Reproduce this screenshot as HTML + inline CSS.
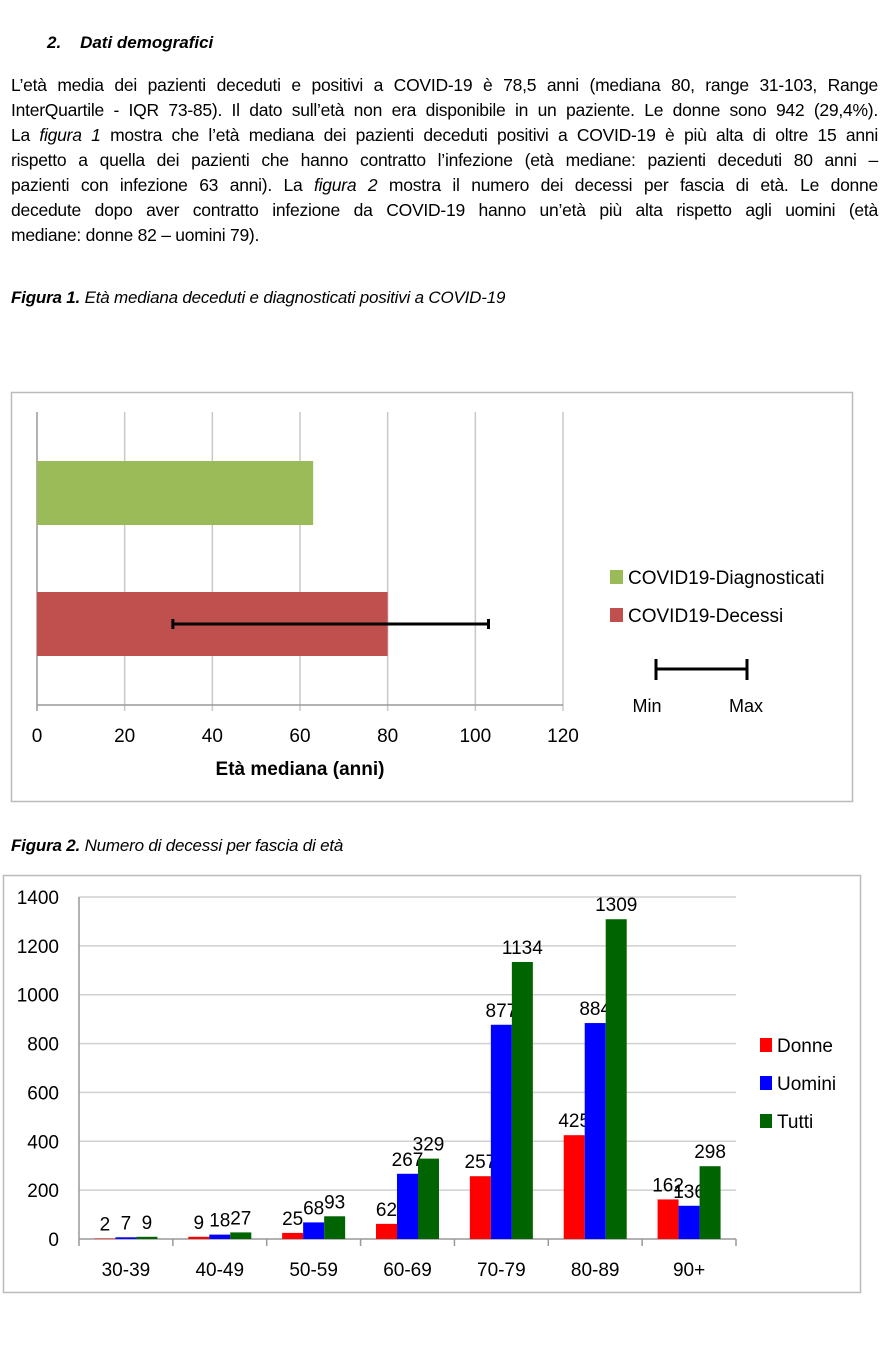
<!DOCTYPE html>
<html><head><meta charset="utf-8">
<style>
body{margin:0;width:880px;height:1369px;background:#fff;position:relative;font-family:"Liberation Sans",sans-serif;color:#000;overflow:hidden}
.ln{position:absolute;left:11px;width:867px;font-size:17.5px;letter-spacing:-0.25px;line-height:20px;text-align:justify;text-align-last:justify;white-space:nowrap}
.ln.last{text-align-last:left}
.cap{position:absolute;left:11px;font-size:17px;font-style:italic;letter-spacing:-0.2px}
svg text{font-family:"Liberation Sans",sans-serif}
</style></head><body>
<div style="position:absolute;left:47px;top:33px;font-size:17px;font-weight:bold;font-style:italic">2.&nbsp;&nbsp;&nbsp;&nbsp;Dati demografici</div>
<div>
<div class="ln" style="top:75px">L’età media dei pazienti deceduti e positivi a COVID-19 è 78,5 anni (mediana 80, range 31-103, Range</div>
<div class="ln" style="top:100px">InterQuartile - IQR 73-85). Il dato sull’età non era disponibile in un paziente. Le donne sono 942 (29,4%).</div>
<div class="ln" style="top:125px">La <i>figura 1</i> mostra che l’età mediana dei pazienti deceduti positivi a COVID-19 è più alta di oltre 15 anni</div>
<div class="ln" style="top:150px">rispetto a quella dei pazienti che hanno contratto l’infezione (età mediane: pazienti deceduti 80 anni –</div>
<div class="ln" style="top:175px">pazienti con infezione 63 anni). La <i>figura 2</i> mostra il numero dei decessi per fascia di età. Le donne</div>
<div class="ln" style="top:200px">decedute dopo aver contratto infezione da COVID-19 hanno un’età più alta rispetto agli uomini (età</div>
<div class="ln last" style="top:225px">mediane: donne 82 – uomini 79).</div>
</div>
<div class="cap" style="top:288px"><b>Figura 1.</b> Età mediana deceduti e diagnosticati positivi a COVID-19</div>
<div class="cap" style="top:836px"><b>Figura 2.</b> Numero di decessi per fascia di età</div>

<svg id="c1" width="880" height="1369" style="position:absolute;left:0;top:0" xmlns="http://www.w3.org/2000/svg"></svg>
<script>
const c1Series=["COVID19-Diagnosticati","COVID19-Decessi"];
const c1Values=[63,80];
const c1ErrMin=[null,31];
const c1ErrMax=[null,103];
const c1Ticks=[0,20,40,60,80,100,120];
const c2Cats=["30-39","40-49","50-59","60-69","70-79","80-89","90+"];
const c2Donne=[2,9,25,62,257,425,162];
const c2Uomini=[7,18,68,267,877,884,136];
const c2Tutti=[9,27,93,329,1134,1309,298];
const c2Ticks=[0,200,400,600,800,1000,1200,1400];
const NS="http://www.w3.org/2000/svg";
function mk(p,t,a,txt){const e=document.createElementNS(NS,t);for(const k in a)e.setAttribute(k,a[k]);if(txt!==undefined)e.textContent=txt;p.appendChild(e);return e;}
const svg=document.getElementById('c1');
// figure 1
let e=mk(svg,'rect',{x:11.5,y:392.5,width:841,height:409,fill:'#fff',stroke:'#bbb','stroke-width':1.5});


const x1=v=>37+v*(563-37)/120;
c1Ticks.forEach(t=>{
 e=mk(svg,'line',{x1:x1(t),x2:x1(t),y1:412,y2:711,stroke:t===0?'#999':'#c8c8c8','stroke-width':1.5});
 
 
 e=mk(svg,'text',{x:x1(t),y:742,'font-size':19,'text-anchor':'middle'},String(t));
 
 
});
e=mk(svg,'line',{x1:37,x2:563,y1:705,y2:705,stroke:'#999','stroke-width':1.5});


const c1Colors=['#9bbb59','#c0504d'];
const c1Y=[461,592];
c1Values.forEach((v,i)=>{
 e=mk(svg,'rect',{x:x1(0),y:c1Y[i],width:x1(v)-x1(0),height:64,fill:c1Colors[i]});
 
 
 if(c1ErrMin[i]!==null){
  const yy=c1Y[i]+32;
  const g=mk(svg,'g',{stroke:'#000','stroke-width':3});
  
  
  mk(g,'line',{x1:x1(c1ErrMin[i]),x2:x1(c1ErrMax[i]),y1:yy,y2:yy});
  mk(g,'line',{x1:x1(c1ErrMin[i]),x2:x1(c1ErrMin[i]),y1:yy-5,y2:yy+5});
  mk(g,'line',{x1:x1(c1ErrMax[i]),x2:x1(c1ErrMax[i]),y1:yy-5,y2:yy+5});
 }
});
e=mk(svg,'text',{x:300,y:775,'font-size':19,'font-weight':'bold','text-anchor':'middle'},'Età mediana (anni)');


c1Series.forEach((s,i)=>{
 const ly=[577,615][i];
 e=mk(svg,'rect',{x:610,y:ly-7,width:13,height:14,fill:c1Colors[i]});
 
 
 e=mk(svg,'text',{x:628,y:ly+7,'font-size':19},s);
 
 
});
let g=mk(svg,'g',{stroke:'#000','stroke-width':3});


mk(g,'line',{x1:656,x2:747,y1:669,y2:669});mk(g,'line',{x1:656,x2:656,y1:659,y2:680});mk(g,'line',{x1:747,x2:747,y1:659,y2:680});
e=mk(svg,'text',{x:647,y:712,'font-size':18,'text-anchor':'middle'},'Min');


e=mk(svg,'text',{x:746,y:712,'font-size':18,'text-anchor':'middle'},'Max');



// figure 2
e=mk(svg,'rect',{x:3.5,y:875.5,width:857,height:417,fill:'none',stroke:'#bbb','stroke-width':1.5});


const L=79,R=736,Y0=1239,YT=897;
const y2=v=>Y0-v*(Y0-YT)/1400;
const cw=(R-L)/c2Cats.length;
c2Ticks.forEach(t=>{
 if(t>0){e=mk(svg,'line',{x1:L,x2:R,y1:y2(t),y2:y2(t),stroke:'#d0d0d0','stroke-width':1.5});
 
 }
 e=mk(svg,'text',{x:59,y:y2(t)+7,'font-size':19,'text-anchor':'end'},String(t));
 
 
});
e=mk(svg,'line',{x1:L,x2:L,y1:YT,y2:Y0,stroke:'#999','stroke-width':1.5});


e=mk(svg,'line',{x1:L,x2:R,y1:Y0,y2:Y0,stroke:'#999','stroke-width':1.5});


for(let i=0;i<=c2Cats.length;i++){
 e=mk(svg,'line',{x1:L+i*cw,x2:L+i*cw,y1:Y0,y2:Y0+7,stroke:'#999','stroke-width':1.5});
 
 
}
const c2Series=[["Donne",c2Donne,'#ff0000'],["Uomini",c2Uomini,'#0000ff'],["Tutti",c2Tutti,'#006400']];
const bw=21;
c2Cats.forEach((c,i)=>{
 const cx=L+(i+0.5)*cw;
 e=mk(svg,'text',{x:cx,y:1276,'font-size':19,'text-anchor':'middle'},c);
 
 
 c2Series.forEach((s,j)=>{
  const v=s[1][i];const bx=cx-1.5*bw+j*bw;
  e=mk(svg,'rect',{x:bx,y:y2(v),width:bw,height:Y0-y2(v),fill:s[2]});
  
  
  e=mk(svg,'text',{x:bx+bw/2,y:y2(v)-8,'font-size':19,'text-anchor':'middle'},String(v));
  
  
 });
});
c2Series.forEach((s,j)=>{
 const ly=1045+j*38;
 e=mk(svg,'rect',{x:760,y:ly-7,width:12,height:14,fill:s[2]});
 
 
 e=mk(svg,'text',{x:777,y:ly+7,'font-size':19},s[0]);
 
 
});
</script>
</body></html>
